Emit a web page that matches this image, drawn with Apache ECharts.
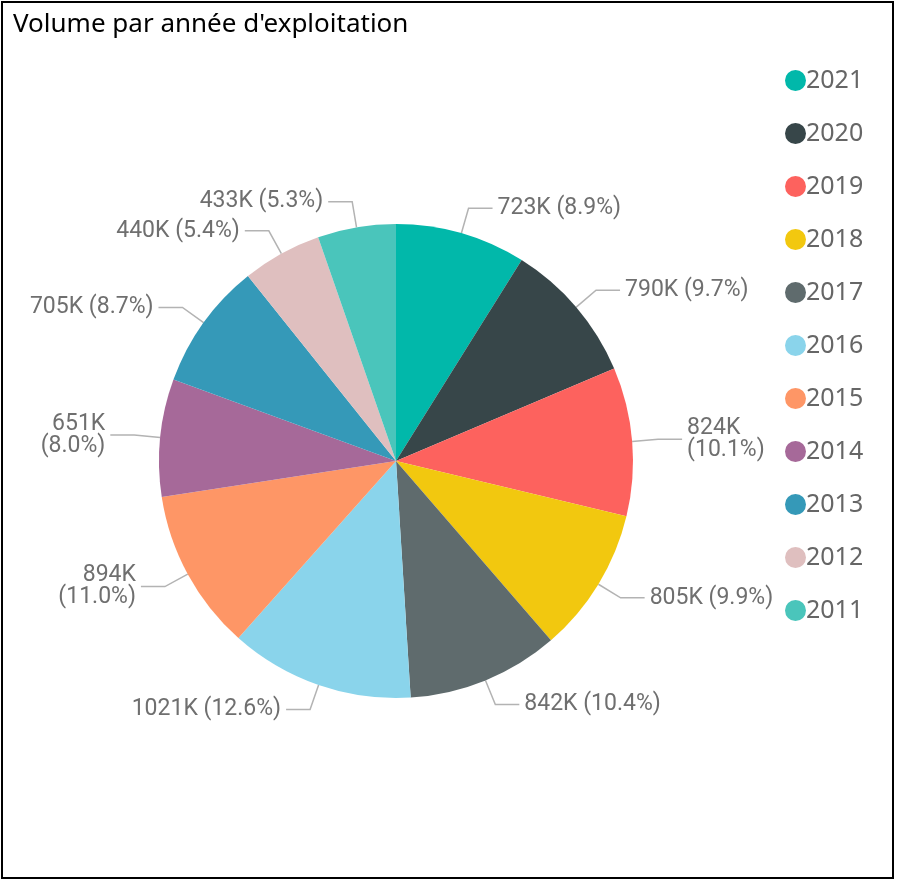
<!DOCTYPE html>
<html>
<head>
<meta charset="utf-8">
<script src="https://cdn.jsdelivr.net/npm/echarts@6/dist/echarts.min.js"></script>
<style>
  html, body { margin: 0; padding: 0; background: #fff; }
  #main { width: 900px; height: 882px; }
</style>
</head>
<body>
<div id="main"></div>
<script>
// données
var annees = ['2021', '2020', '2019', '2018', '2017', '2016', '2015', '2014', '2013', '2012', '2011'];
var volumes = [723, 790, 824, 805, 842, 1021, 894, 651, 705, 440, 433]; // en milliers
var couleurs = ['#01B8AA', '#374649', '#FD625E', '#F2C80F', '#5F6B6D', '#8AD4EB',
                '#FE9666', '#A66999', '#3599B8', '#DFBFBF', '#4AC5BB'];
var etiquettesSurDeuxLignes = ['2019', '2015', '2014'];

var total = 0;
for (var i = 0; i < volumes.length; i++) total += volumes[i];

var donnees = [];
for (var i = 0; i < annees.length; i++) {
  donnees.push({ name: annees[i], value: volumes[i], itemStyle: { color: couleurs[i] } });
}

var myChart = echarts.init(document.getElementById('main'));
var option = {
  backgroundColor: '#fff',
  animation: false,
  title: {
    text: "Volume par année d'exploitation",
    left: 8,
    top: 7,
    textStyle: {
      fontFamily: 'Noto Sans',
      fontWeight: 'normal',
      fontSize: 26,
      color: '#000'
    }
  },
  legend: {
    orient: 'vertical',
    left: 780,
    top: 63,
    icon: 'circle',
    itemWidth: 21,
    itemHeight: 21,
    itemGap: 28,
    textStyle: {
      fontFamily: 'Noto Sans',
      fontSize: 25,
      color: '#666',
      padding: [0, 0, 0, -5]
    },
    data: annees
  },
  graphic: [{
    type: 'rect',
    shape: { x: 2, y: 2, width: 891, height: 876 },
    style: { fill: 'none', stroke: '#000', lineWidth: 2 },
    silent: true
  }],
  series: [{
    type: 'pie',
    center: [396, 461],
    radius: 237,
    startAngle: 90,
    clockwise: true,
    data: donnees,
    label: {
      show: true,
      fontFamily: 'Roboto',
      fontSize: 23,
      color: '#6f6f6f',
      lineHeight: 22,
      formatter: function (p) {
        var pct = (p.value / total * 100).toFixed(1) + '%';
        var sep = etiquettesSurDeuxLignes.indexOf(p.name) >= 0 ? '\n' : ' ';
        return p.value + 'K' + sep + '(' + pct + ')';
      }
    },
    labelLine: {
      show: true,
      length: 26,
      length2: 24,
      lineStyle: { color: '#b3b3b3', width: 1.5 }
    }
  }]
};
myChart.setOption(option);
</script>
</body>
</html>
